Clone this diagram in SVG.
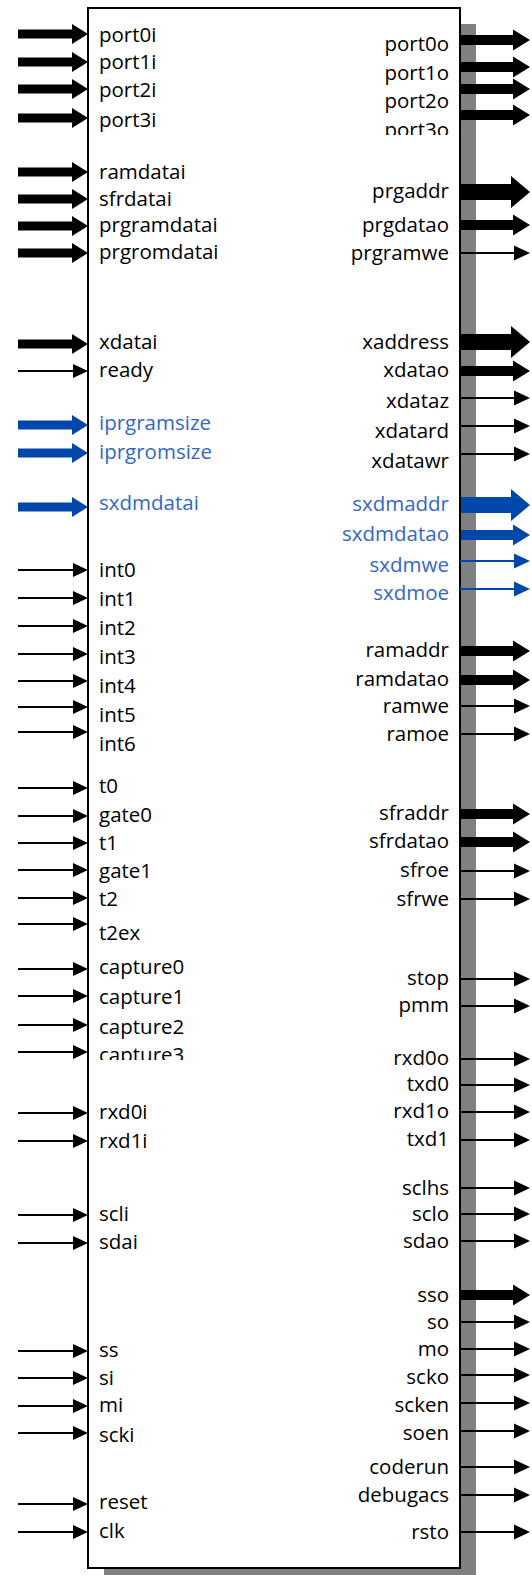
<svg xmlns="http://www.w3.org/2000/svg" xmlns:xlink="http://www.w3.org/1999/xlink" width="532" height="1575" viewBox="0 0 532 1575">
<style>
text{font-family:"Open Sans","Noto Sans","Liberation Sans",sans-serif;font-size:20.5px;fill:#000}
.l{text-anchor:start}
.r{text-anchor:end}
text.bt{fill:#3366cc}
.k{color:#000;fill:#000}
.b{color:#0047ab;fill:#0047ab}
</style>
<defs>
<path id="inThick" d="M18,-4.5 H72 V-10 L88,0 L72,10 V4.5 H18 Z"/>
<g id="inThin"><path d="M18,0 H75" fill="none" stroke="currentColor" stroke-width="2"/><path d="M73,-7 L88,0 L73,7 Z"/></g>
<path id="outThick" d="M461,-5 H513 V-10.5 L530,0 L513,10.5 V5 H461 Z"/>
<path id="outBig" d="M461,-8 H511 V-16 L530,0 L511,16 V8 H461 Z"/>
<g id="outThin"><path d="M460,0 H516" fill="none" stroke="currentColor" stroke-width="2"/><path d="M514,-7.5 L530,0 L514,7.5 Z"/></g>
<clipPath id="cpPort3o"><rect x="300" y="110" width="160" height="25"/></clipPath>
<clipPath id="cpCap3"><rect x="95" y="1035" width="160" height="25"/></clipPath>
</defs>

<g id="block">
<rect id="shadow" x="104" y="24" width="372" height="1560" fill="#808080"/>
<rect id="body" x="88" y="8" width="372" height="1560" fill="#fff" stroke="#000" stroke-width="2"/>
</g>

<g id="connectors">
<use href="#inThick" class="k" y="34"/>
<use href="#inThick" class="k" y="62"/>
<use href="#inThick" class="k" y="89"/>
<use href="#inThick" class="k" y="118"/>
<use href="#inThick" class="k" y="172"/>
<use href="#inThick" class="k" y="199"/>
<use href="#inThick" class="k" y="226"/>
<use href="#inThick" class="k" y="253"/>
<use href="#inThick" class="k" y="344"/>
<use href="#inThin" class="k" y="371"/>
<use href="#inThick" class="b" y="425"/>
<use href="#inThick" class="b" y="453"/>
<use href="#inThick" class="b" y="507"/>
<use href="#inThin" class="k" y="570"/>
<use href="#inThin" class="k" y="598"/>
<use href="#inThin" class="k" y="626"/>
<use href="#inThin" class="k" y="654"/>
<use href="#inThin" class="k" y="681"/>
<use href="#inThin" class="k" y="707"/>
<use href="#inThin" class="k" y="732"/>
<use href="#inThin" class="k" y="788"/>
<use href="#inThin" class="k" y="816"/>
<use href="#inThin" class="k" y="843"/>
<use href="#inThin" class="k" y="870"/>
<use href="#inThin" class="k" y="898"/>
<use href="#inThin" class="k" y="924"/>
<use href="#inThin" class="k" y="969"/>
<use href="#inThin" class="k" y="996"/>
<use href="#inThin" class="k" y="1025"/>
<use href="#inThin" class="k" y="1052"/>
<use href="#inThin" class="k" y="1113"/>
<use href="#inThin" class="k" y="1141"/>
<use href="#inThin" class="k" y="1215"/>
<use href="#inThin" class="k" y="1243"/>
<use href="#inThin" class="k" y="1351"/>
<use href="#inThin" class="k" y="1378"/>
<use href="#inThin" class="k" y="1406"/>
<use href="#inThin" class="k" y="1433"/>
<use href="#inThin" class="k" y="1504"/>
<use href="#inThin" class="k" y="1532"/>

<use href="#outThick" class="k" y="40"/>
<use href="#outThick" class="k" y="67"/>
<use href="#outThick" class="k" y="89"/>
<use href="#outThick" class="k" y="115"/>
<use href="#outBig" class="k" y="192"/>
<use href="#outThick" class="k" y="225"/>
<use href="#outThin" class="k" y="253"/>
<use href="#outBig" class="k" y="342"/>
<use href="#outThick" class="k" y="371"/>
<use href="#outThin" class="k" y="398"/>
<use href="#outThin" class="k" y="426"/>
<use href="#outThin" class="k" y="454"/>
<use href="#outBig" class="b" y="505"/>
<use href="#outThick" class="b" y="535"/>
<use href="#outThin" class="b" y="561"/>
<use href="#outThin" class="b" y="589"/>
<use href="#outThick" class="k" y="651"/>
<use href="#outThick" class="k" y="680"/>
<use href="#outThin" class="k" y="706"/>
<use href="#outThin" class="k" y="734"/>
<use href="#outThick" class="k" y="814"/>
<use href="#outThick" class="k" y="842"/>
<use href="#outThin" class="k" y="871"/>
<use href="#outThin" class="k" y="899"/>
<use href="#outThin" class="k" y="979"/>
<use href="#outThin" class="k" y="1006"/>
<use href="#outThin" class="k" y="1059"/>
<use href="#outThin" class="k" y="1085"/>
<use href="#outThin" class="k" y="1112"/>
<use href="#outThin" class="k" y="1140"/>
<use href="#outThin" class="k" y="1188"/>
<use href="#outThin" class="k" y="1214"/>
<use href="#outThin" class="k" y="1241"/>
<use href="#outThick" class="k" y="1295"/>
<use href="#outThin" class="k" y="1322"/>
<use href="#outThin" class="k" y="1349"/>
<use href="#outThin" class="k" y="1375"/>
<use href="#outThin" class="k" y="1403"/>
<use href="#outThin" class="k" y="1431"/>
<use href="#outThin" class="k" y="1467"/>
<use href="#outThin" class="k" y="1495"/>
<use href="#outThin" class="k" y="1532"/>
</g>

<g id="inputs">
<text class="l" x="99" y="42">port0i</text>
<text class="l" x="99" y="69">port1i</text>
<text class="l" x="99" y="97">port2i</text>
<text class="l" x="99" y="127">port3i</text>
<text class="l" x="99" y="179">ramdatai</text>
<text class="l" x="99" y="206">sfrdatai</text>
<text class="l" x="99" y="232">prgramdatai</text>
<text class="l" x="99" y="259">prgromdatai</text>
<text class="l" x="99" y="349">xdatai</text>
<text class="l" x="99" y="377">ready</text>
<text class="l bt" x="99" y="430">iprgramsize</text>
<text class="l bt" x="99" y="459">iprgromsize</text>
<text class="l bt" x="99" y="510">sxdmdatai</text>
<text class="l" x="99" y="577">int0</text>
<text class="l" x="99" y="606">int1</text>
<text class="l" x="99" y="635">int2</text>
<text class="l" x="99" y="664">int3</text>
<text class="l" x="99" y="693">int4</text>
<text class="l" x="99" y="722">int5</text>
<text class="l" x="99" y="751">int6</text>
<text class="l" x="99" y="793">t0</text>
<text class="l" x="99" y="822">gate0</text>
<text class="l" x="99" y="850">t1</text>
<text class="l" x="99" y="878">gate1</text>
<text class="l" x="99" y="906">t2</text>
<text class="l" x="99" y="940">t2ex</text>
<text class="l" x="99" y="974">capture0</text>
<text class="l" x="99" y="1004">capture1</text>
<text class="l" x="99" y="1034">capture2</text>
<text class="l" x="99" y="1062" clip-path="url(#cpCap3)">capture3</text>
<text class="l" x="99" y="1119">rxd0i</text>
<text class="l" x="99" y="1148">rxd1i</text>
<text class="l" x="99" y="1221">scli</text>
<text class="l" x="99" y="1249">sdai</text>
<text class="l" x="99" y="1357">ss</text>
<text class="l" x="99" y="1385">si</text>
<text class="l" x="99" y="1412">mi</text>
<text class="l" x="99" y="1442">scki</text>
<text class="l" x="99" y="1509">reset</text>
<text class="l" x="99" y="1538">clk</text>
</g>

<g id="outputs">
<text class="r" x="449" y="51">port0o</text>
<text class="r" x="449" y="80">port1o</text>
<text class="r" x="449" y="108">port2o</text>
<text class="r" x="449" y="137" clip-path="url(#cpPort3o)">port3o</text>
<text class="r" x="449" y="198">prgaddr</text>
<text class="r" x="449" y="232">prgdatao</text>
<text class="r" x="449" y="260">prgramwe</text>
<text class="r" x="449" y="349">xaddress</text>
<text class="r" x="449" y="377">xdatao</text>
<text class="r" x="449" y="408">xdataz</text>
<text class="r" x="449" y="438">xdatard</text>
<text class="r" x="449" y="468">xdatawr</text>
<text class="r bt" x="449" y="511">sxdmaddr</text>
<text class="r bt" x="449" y="541">sxdmdatao</text>
<text class="r bt" x="449" y="572">sxdmwe</text>
<text class="r bt" x="449" y="600">sxdmoe</text>
<text class="r" x="449" y="657">ramaddr</text>
<text class="r" x="449" y="686">ramdatao</text>
<text class="r" x="449" y="713">ramwe</text>
<text class="r" x="449" y="741">ramoe</text>
<text class="r" x="449" y="820">sfraddr</text>
<text class="r" x="449" y="848">sfrdatao</text>
<text class="r" x="449" y="877">sfroe</text>
<text class="r" x="449" y="906">sfrwe</text>
<text class="r" x="449" y="985">stop</text>
<text class="r" x="449" y="1012">pmm</text>
<text class="r" x="449" y="1065">rxd0o</text>
<text class="r" x="449" y="1091">txd0</text>
<text class="r" x="449" y="1118">rxd1o</text>
<text class="r" x="449" y="1146">txd1</text>
<text class="r" x="449" y="1195">sclhs</text>
<text class="r" x="449" y="1221">sclo</text>
<text class="r" x="449" y="1248">sdao</text>
<text class="r" x="449" y="1302">sso</text>
<text class="r" x="449" y="1329">so</text>
<text class="r" x="449" y="1356">mo</text>
<text class="r" x="449" y="1384">scko</text>
<text class="r" x="449" y="1412">scken</text>
<text class="r" x="449" y="1440">soen</text>
<text class="r" x="449" y="1474">coderun</text>
<text class="r" x="449" y="1502">debugacs</text>
<text class="r" x="449" y="1539">rsto</text>
</g>
</svg>
